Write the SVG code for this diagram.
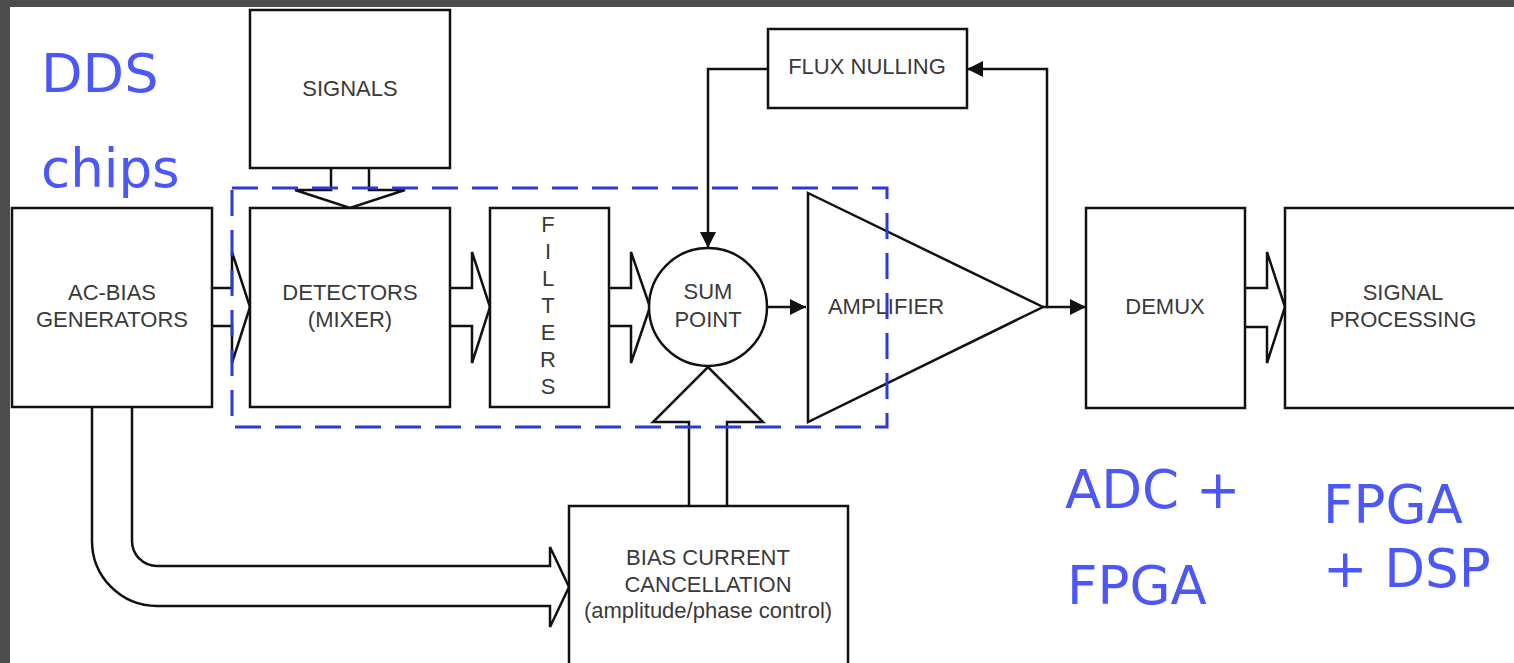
<svg xmlns="http://www.w3.org/2000/svg" width="1514" height="663" viewBox="0 0 1514 663">
<style>
.box{fill:#fff;stroke:#111;stroke-width:2.5}
.ln{fill:none;stroke:#111;stroke-width:2.5}
.fat{fill:#fff;stroke:#111;stroke-width:2.5;stroke-linejoin:miter}
.t{font-family:"Liberation Sans",Arial,sans-serif;font-size:22px;fill:#3a3a3a;text-anchor:middle}
.b{font-family:"DejaVu Sans",Verdana,sans-serif;font-size:53px;fill:#4b57f7}
</style>
<defs>
<marker id="ah" viewBox="0 0 16 16" refX="16" refY="8" markerWidth="16" markerHeight="16" markerUnits="userSpaceOnUse" orient="auto">
<path d="M0,0 L16,8 L0,16 Z" fill="#111"/>
</marker>
</defs>
<rect x="0" y="0" width="1514" height="663" fill="#4d4d4d"/>
<rect x="10" y="7" width="1504" height="656" fill="#fff"/>

<g id="connectors">
<polyline class="fat" points="331,168 331,190 295,190 350,208 405,190 369,190 369,168"/>
<path class="fat" d="M212,288 H232 V252 L250,307 L232,363 V326 H212"/>
<path class="fat" d="M450,288 H472 V252 L490,307 L472,363 V326 H450"/>
<path class="fat" d="M609,288 H631 V252 L650,307 L631,363 V326 H609"/>
<path class="fat" d="M1245,288 H1267 V252 L1285,307 L1267,363 V327 H1245"/>
<polyline class="fat" points="689,506 689,422 653,422 708,367 763,422 727,422 727,506"/>
<path class="fat" d="M92,407 V541 A65,65 0 0 0 157,606 H550 V627 L569,587 L550,547 V566 H157 A25,25 0 0 1 132,541 V407"/>
<line class="ln" x1="767" y1="307" x2="806" y2="307" marker-end="url(#ah)"/>
<polyline class="ln" points="768,69 708,69 708,248" marker-end="url(#ah)"/>
<polyline class="ln" points="1043,307 1047,307 1047,69 967,69" marker-end="url(#ah)"/>
<line class="ln" x1="1047" y1="307" x2="1086" y2="307" marker-end="url(#ah)"/>
</g>

<g id="signals">
<rect class="box" x="250" y="10" width="200" height="158"/>
<text class="t" x="350" y="96">SIGNALS</text>
</g>
<g id="ac-bias">
<rect class="box" x="12" y="208" width="200" height="199"/>
<text class="t" x="112" y="300">AC-BIAS</text>
<text class="t" x="112" y="327">GENERATORS</text>
</g>
<g id="detectors">
<rect class="box" x="250" y="208" width="200" height="199"/>
<text class="t" x="350" y="300">DETECTORS</text>
<text class="t" x="350" y="327">(MIXER)</text>
</g>
<g id="filters">
<rect class="box" x="490" y="208" width="119" height="199"/>
<text class="t" x="548" y="232">F</text>
<text class="t" x="548" y="259">I</text>
<text class="t" x="548" y="286">L</text>
<text class="t" x="548" y="313">T</text>
<text class="t" x="548" y="340">E</text>
<text class="t" x="548" y="367">R</text>
<text class="t" x="548" y="394">S</text>
</g>
<g id="sum-point">
<circle class="box" cx="708" cy="307" r="59"/>
<text class="t" x="708" y="299">SUM</text>
<text class="t" x="708" y="327">POINT</text>
</g>
<g id="amplifier">
<polygon class="box" points="808,193 1043,307 808,422"/>
<text class="t" x="886" y="314">AMPLIFIER</text>
</g>
<g id="flux-nulling">
<rect class="box" x="768" y="29" width="199" height="79"/>
<text class="t" x="867" y="74">FLUX NULLING</text>
</g>
<g id="demux">
<rect class="box" x="1086" y="208" width="159" height="200"/>
<text class="t" x="1165" y="314">DEMUX</text>
</g>
<g id="signal-processing">
<rect class="box" x="1285" y="208" width="260" height="200"/>
<text class="t" x="1403" y="300">SIGNAL</text>
<text class="t" x="1403" y="327">PROCESSING</text>
</g>
<g id="bias-current">
<rect class="box" x="569" y="506" width="279" height="170"/>
<text class="t" x="708" y="565">BIAS CURRENT</text>
<text class="t" x="708" y="592">CANCELLATION</text>
<text class="t" x="708" y="618">(amplitude/phase control)</text>
</g>

<g id="dashed-group">
<rect x="232" y="188" width="655" height="239" fill="none" stroke="#2b3bd0" stroke-width="3" stroke-dasharray="26 14"/>
</g>

<g id="labels">
<text class="b" x="41" y="92" style="font-size:54px">DDS</text>
<text class="b" x="41" y="187">chips</text>
<text class="b" x="1065" y="508">ADC +</text>
<text class="b" x="1067" y="604">FPGA</text>
<text class="b" x="1323" y="523">FPGA</text>
<text class="b" x="1323" y="587">+ DSP</text>
</g>
</svg>
